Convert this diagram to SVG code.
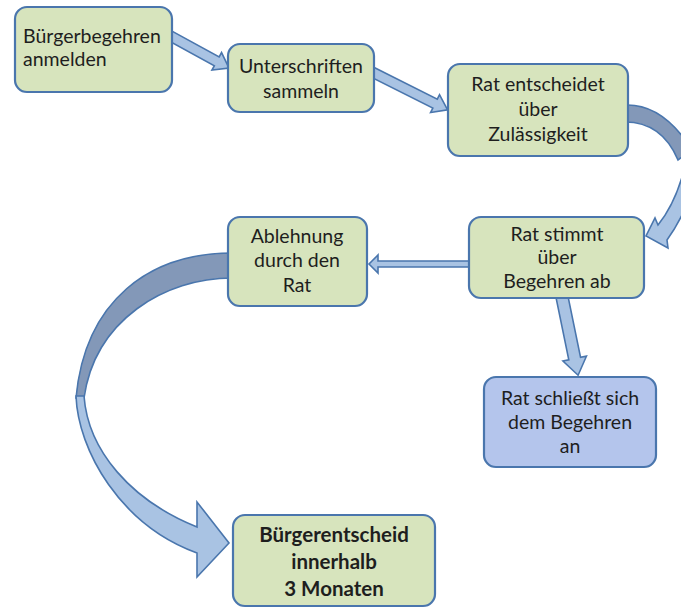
<svg xmlns="http://www.w3.org/2000/svg" width="681" height="608" viewBox="0 0 681 608">
<style>
.box{fill:#d7e4bd;stroke:#4a76ad;stroke-width:2.2}
.blue{fill:#b4c5ec}
.t{font-family:Lato,"Open Sans","Liberation Sans",sans-serif;font-size:19.5px;fill:#1e1e1e;text-anchor:middle}
.b{font-weight:bold;font-size:20.5px}
.l{text-anchor:start}
.arr{fill:#a9c3e3;stroke:#4a76ad;stroke-width:1.6;stroke-linejoin:miter}
.dark{fill:#8398b8;stroke:#4a76ad;stroke-width:1.6}
</style>
<rect width="681" height="608" fill="#ffffff"/>
<g id="connectors">
  <polygon class="arr" transform="translate(165,33) rotate(28.7)" points="0,-5 59,-5 59,-10 73,0 59,10 59,5 0,5"/>
  <polygon class="arr" transform="translate(368,70) rotate(26.6)" points="0,-5 75,-5 75,-10 89,0 75,10 75,5 0,5"/>
  <path class="dark" d="M625,105 C650,104 672,118 692,150 L678,160 C667,134 650,122 625,122 Z"/>
  <path class="arr" d="M697,176 C690,200 680,222 667,240 L668,248 L646,236 L655,218 L658,225 C670,210 678,193 684,170 Z"/>
  <polygon class="arr" points="472,261 378,261 378,255 369,264 378,273 378,267 472,267"/>
  <polygon class="arr" transform="translate(561,292) rotate(78.4)" points="0,-6 68,-6 68,-12 85,0 68,12 68,6 0,6"/>
  <path class="dark" d="M232,253 C150,253 85,300 76,398 L84,398 C95,320 165,278 232,278 Z"/>
  <path class="arr" d="M76,396 C78,450 120,525 197,553 L197,577 L229,543 L197,502 L197,527 C130,500 88,450 84,396 Z"/>
</g>
<g id="n1">
  <rect class="box" x="15" y="7" width="157" height="85" rx="12"/>
  <text class="t l" x="23" y="43">Bürgerbegehren</text>
  <text class="t l" x="23" y="66">anmelden</text>
</g>
<g id="n2">
  <rect class="box" x="228" y="44" width="146" height="68" rx="12"/>
  <text class="t" x="301" y="73">Unterschriften</text>
  <text class="t" x="301" y="98">sammeln</text>
</g>
<g id="n3">
  <rect class="box" x="448" y="64" width="180" height="92" rx="12"/>
  <text class="t" x="538" y="91">Rat entscheidet</text>
  <text class="t" x="538" y="116">über</text>
  <text class="t" x="538" y="141">Zulässigkeit</text>
</g>
<g id="n4">
  <rect class="box" x="469" y="217" width="175" height="81" rx="12"/>
  <text class="t" x="557" y="241">Rat stimmt</text>
  <text class="t" x="557" y="264">über</text>
  <text class="t" x="557" y="288">Begehren ab</text>
</g>
<g id="n5">
  <rect class="box" x="228" y="217" width="139" height="89" rx="12"/>
  <text class="t" x="297" y="243">Ablehnung</text>
  <text class="t" x="297" y="267">durch den</text>
  <text class="t" x="297" y="292">Rat</text>
</g>
<g id="n6">
  <rect class="box blue" x="484" y="377" width="172" height="90" rx="12"/>
  <text class="t" x="570" y="405">Rat schließt sich</text>
  <text class="t" x="570" y="429">dem Begehren</text>
  <text class="t" x="570" y="453">an</text>
</g>
<g id="n7">
  <rect class="box" x="233" y="515" width="202" height="91" rx="12"/>
  <text class="t b" x="334" y="542">Bürgerentscheid</text>
  <text class="t b" x="334" y="569">innerhalb</text>
  <text class="t b" x="334" y="596">3 Monaten</text>
</g>
</svg>
